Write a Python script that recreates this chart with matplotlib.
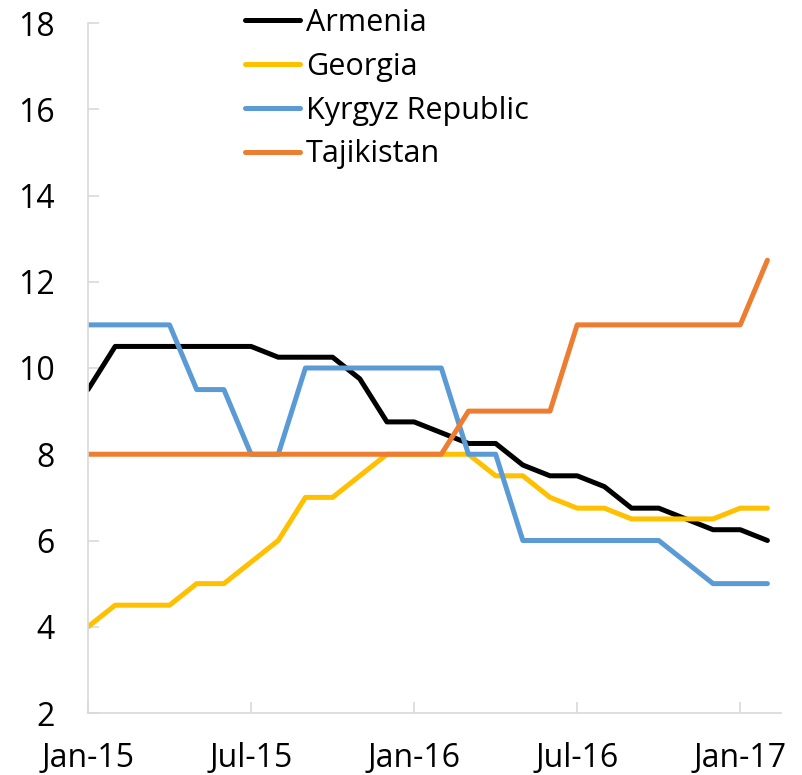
import matplotlib
matplotlib.use("Agg")
import matplotlib.pyplot as plt
import numpy as np

plt.rcParams['font.family'] = ['Open Sans', 'DejaVu Sans']

# monthly, Jan-15 .. Feb-17
armenia = [9.5, 10.5, 10.5, 10.5, 10.5, 10.5, 10.5, 10.25, 10.25, 10.25, 9.75, 8.75, 8.75,
           8.5, 8.25, 8.25, 7.75, 7.5, 7.5, 7.25, 6.75, 6.75, 6.5, 6.25, 6.25, 6.0]
georgia = [4.0, 4.5, 4.5, 4.5, 5.0, 5.0, 5.5, 6.0, 7.0, 7.0, 7.5, 8.0, 8.0,
           8.0, 8.0, 7.5, 7.5, 7.0, 6.75, 6.75, 6.5, 6.5, 6.5, 6.5, 6.75, 6.75]
kyrgyz = [11.0, 11.0, 11.0, 11.0, 9.5, 9.5, 8.0, 8.0, 10.0, 10.0, 10.0, 10.0, 10.0,
          10.0, 8.0, 8.0, 6.0, 6.0, 6.0, 6.0, 6.0, 6.0, 5.5, 5.0, 5.0, 5.0]
tajik = [8.0, 8.0, 8.0, 8.0, 8.0, 8.0, 8.0, 8.0, 8.0, 8.0, 8.0, 8.0, 8.0,
         8.0, 9.0, 9.0, 9.0, 9.0, 11.0, 11.0, 11.0, 11.0, 11.0, 11.0, 11.0, 12.5]

tick_pos = [0, 6, 12, 18, 24]
tick_labels = ["Jan-15", "Jul-15", "Jan-16", "Jul-16", "Jan-17"]

x = np.arange(len(armenia))

fig = plt.figure(figsize=(8.02, 7.75), dpi=100)
ax = fig.add_axes([88/802, 1 - 713/775, (781-88)/802, (713-23)/775])

lw = 3.6
ax.plot(x, armenia, color="black", lw=lw, label="Armenia", solid_capstyle="round")
ax.plot(x, georgia, color="#FFC000", lw=lw, label="Georgia", solid_capstyle="round")
ax.plot(x, kyrgyz, color="#5B9BD5", lw=lw, label="Kyrgyz Republic", solid_capstyle="round")
ax.plot(x, tajik, color="#ED7D31", lw=lw, label="Tajikistan", solid_capstyle="round")

ax.set_xlim(0, 25.5)
ax.set_ylim(2, 18)
ax.set_yticks(range(2, 19, 2))
ax.set_xticks(tick_pos)
ax.set_xticklabels(tick_labels)

for s in ["top", "right"]:
    ax.spines[s].set_visible(False)
for s in ["left", "bottom"]:
    ax.spines[s].set_color("#D9D9D9")
    ax.spines[s].set_linewidth(1.2)

ax.tick_params(axis="both", direction="in", length=8, color="#D9D9D9", width=1.2,
               labelsize=23)
ax.tick_params(axis="y", pad=24)
ax.tick_params(axis="x", pad=21)

ax.legend(loc="upper left", bbox_to_anchor=(245/802, 1 - 8/775), bbox_transform=fig.transFigure,
          frameon=False, fontsize=22, handlelength=1.8, handletextpad=0.2,
          labelspacing=0.45, borderpad=0, borderaxespad=0)

fig.savefig("out.png", dpi=100)
